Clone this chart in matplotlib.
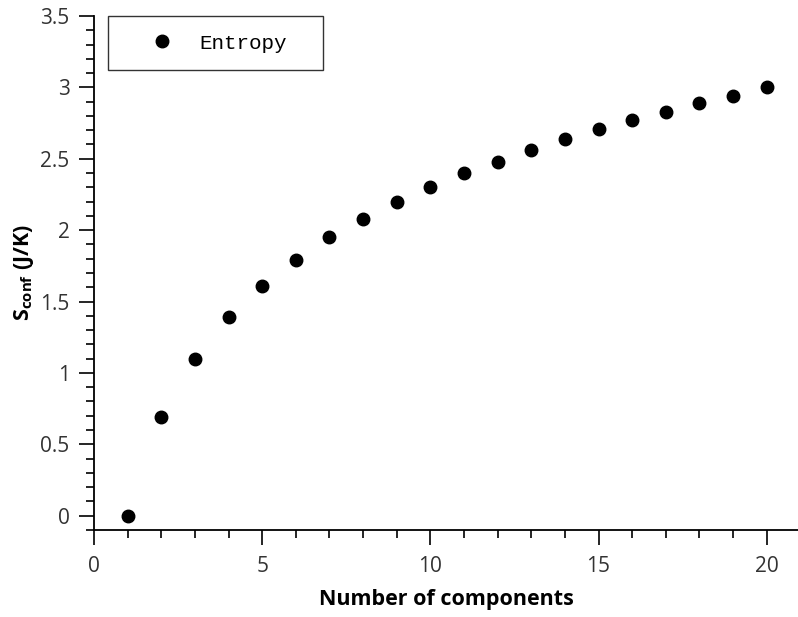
import matplotlib
matplotlib.use("Agg")
import matplotlib.pyplot as plt
from matplotlib.ticker import MultipleLocator

# Configurational entropy vs number of components
n_components = [1, 2, 3, 4, 5, 6, 7, 8, 9, 10, 11, 12, 13, 14, 15, 16, 17, 18, 19, 20]
entropy = [0.00, 0.69, 1.10, 1.39, 1.61, 1.79, 1.95, 2.08, 2.20, 2.30,
           2.40, 2.48, 2.56, 2.64, 2.71, 2.77, 2.83, 2.89, 2.94, 3.00]

plt.rcParams['font.family'] = ['Open Sans', 'DejaVu Sans']
plt.rcParams['mathtext.fontset'] = 'custom'
plt.rcParams['mathtext.rm'] = 'Open Sans'
plt.rcParams['mathtext.bf'] = 'Open Sans:bold'

fig = plt.figure(figsize=(7.98, 6.17), dpi=100)
ax = fig.add_axes([94/798, 87/617, 1 - 94/798, (530 - 16)/617])

ax.plot(n_components, entropy, 'o', color='black', markersize=9, label='Entropy',
        clip_on=False)

ax.set_xlim(0, 20.93)
ax.set_ylim(-0.1, 3.5)
ax.xaxis.set_major_locator(MultipleLocator(5))
ax.xaxis.set_minor_locator(MultipleLocator(1))
ax.yaxis.set_minor_locator(MultipleLocator(0.1))
ax.set_yticks([0, 0.5, 1, 1.5, 2, 2.5, 3, 3.5])
ax.set_yticklabels(['0', '0.5', '1', '1.5', '2', '2.5', '3', '3.5'])

for s in ['top', 'right']:
    ax.spines[s].set_visible(False)
for s in ['left', 'bottom']:
    ax.spines[s].set_linewidth(1.3)

ax.tick_params(which='major', direction='out', length=10.5, width=1.2,
               labelsize=15, labelcolor='#333333')
ax.tick_params(axis='x', which='major', pad=8)
ax.tick_params(axis='y', which='major', pad=7)
ax.tick_params(which='minor', direction='out', length=6, width=1.2)

ax.set_xlabel('Number of components', fontsize=15.5, fontweight='bold', labelpad=9)
ax.set_ylabel(r'$\mathbf{S_{conf}}$ (J/K)', fontsize=15.5, fontweight='bold', labelpad=3)

# legend box spans the same width as the reference (mode='expand')
leg = ax.legend(loc='upper left', bbox_to_anchor=(14/704, 1 - 52/514, 215/704, 52/514),
                mode='expand', frameon=True, fancybox=False, edgecolor='black',
                borderpad=0.85, handletextpad=0.05, handlelength=3.5, borderaxespad=0,
                prop={'family': 'Liberation Mono', 'size': 15})
leg.get_frame().set_linewidth(1.0)

fig.savefig('out.png', dpi=100)
